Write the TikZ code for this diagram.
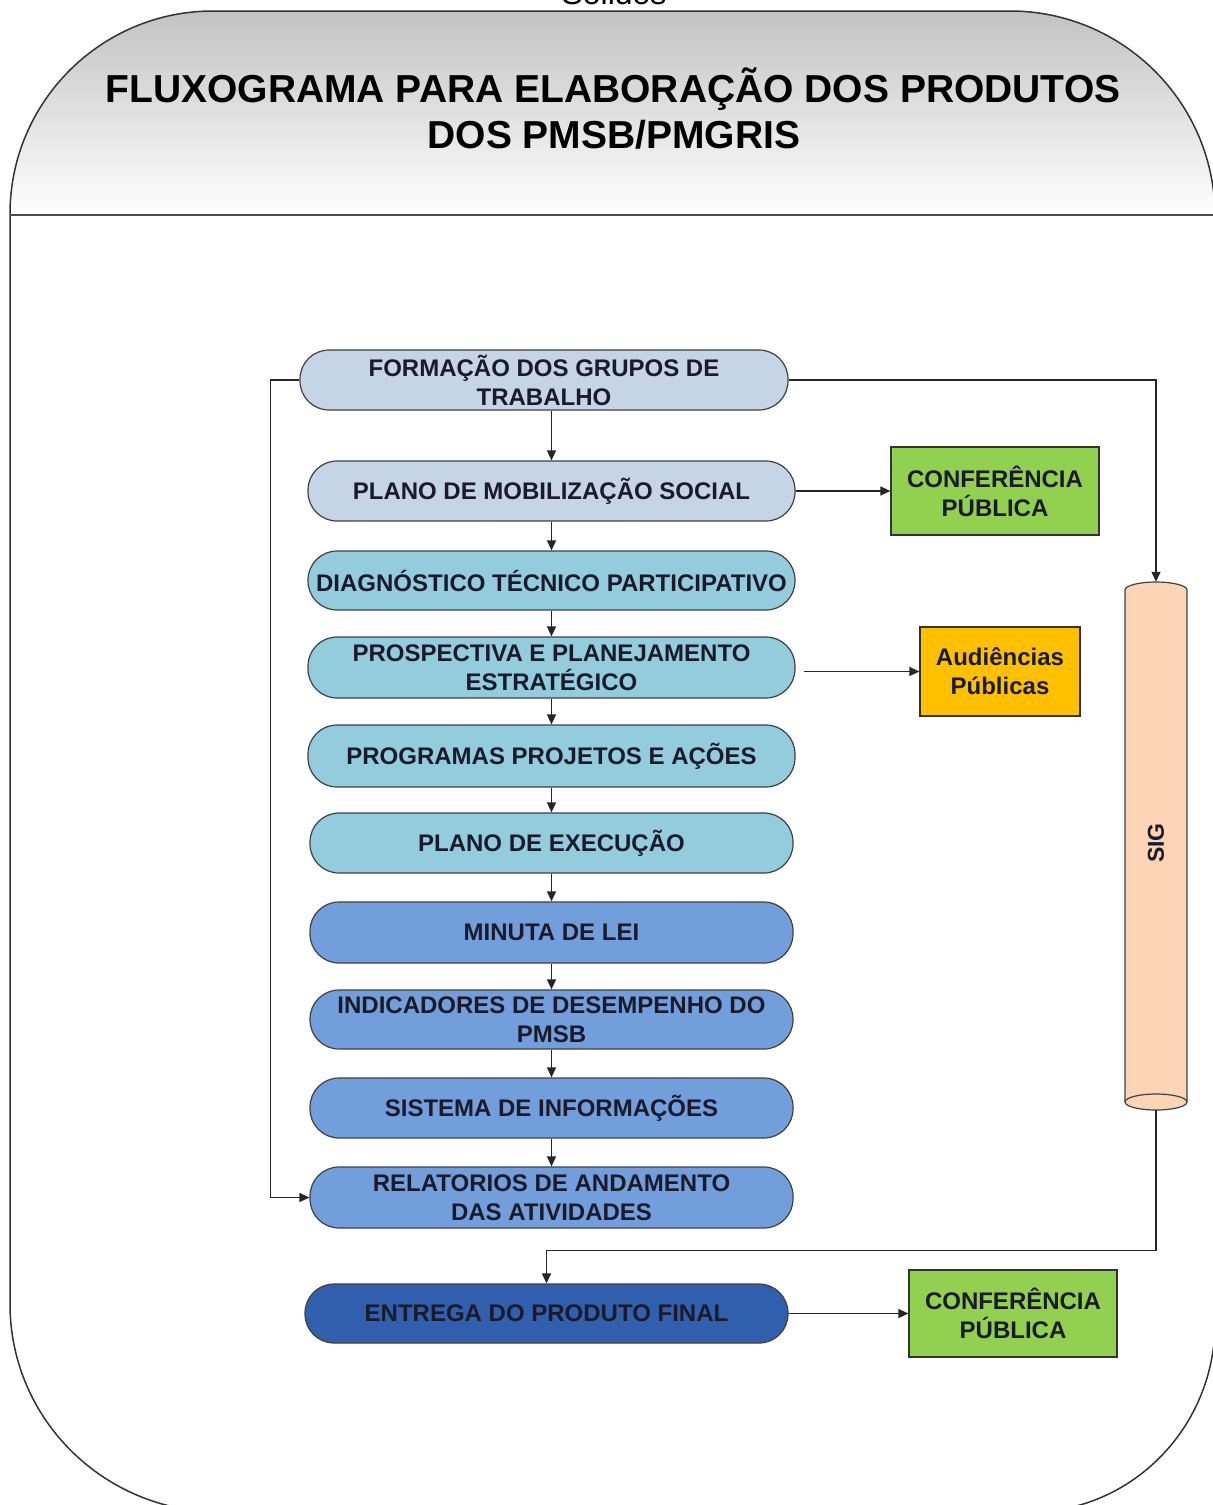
\documentclass[tikz,border=0pt]{standalone}
\usepackage{fontspec}
\setmainfont{Liberation Sans}
\usetikzlibrary{arrows.meta,calc}
\definecolor{grayblue}{HTML}{C6D4E8}
\definecolor{teal1}{HTML}{93CDDD}
\definecolor{blue1}{HTML}{729FDB}
\definecolor{blue2}{HTML}{2F5FAD}
\definecolor{green1}{HTML}{92D050}
\definecolor{orange1}{HTML}{FFC000}
\definecolor{peach}{HTML}{FBD5B5}
\definecolor{txt}{HTML}{1A1A2A}
\begin{document}
\begin{tikzpicture}[x=1pt,y=-1pt,
  pill/.style={draw=black!75, line width=1.2pt, rounded corners=29pt, inner sep=0pt, align=center,
    font=\fontsize{24}{29}\selectfont\bfseries, text=txt},
  pillwide/.style={pill, minimum width=487pt},
  pillnarrow/.style={pill, minimum width=483pt},
  sidebox/.style={draw=black!80, line width=1.2pt, inner sep=0pt, align=center,
    font=\fontsize{24}{29}\selectfont\bfseries, text=txt},
  conn/.style={line width=1.3pt, draw=black!85},
  arr/.style={conn, -{Triangle[length=10pt,width=9pt]}},
  titlefont/.style={font=\fontsize{39}{46}\selectfont\bfseries, anchor=base, text=black}
]
\path[use as bounding box] (0,0) rectangle (1213,1505);

% frame with header gradient
\begin{scope}
\clip (10,1304) -- (10,214) .. controls (10,102) and (101,11) .. (213,11) -- (1010,11)
  .. controls (1123,11) and (1215,103) .. (1215,216) -- (1215,1323)
  .. controls (1215,1427) and (1132,1512) .. (1030,1512) -- (220,1512)
  .. controls (104,1512) and (10,1419) .. (10,1304) -- cycle;
\shade[top color=black!25, bottom color=white] (0,0) rectangle (1220,215);
\end{scope}
\draw[line width=1.5pt, black!80] (10,1304) -- (10,214) .. controls (10,102) and (101,11) .. (213,11) -- (1010,11)
  .. controls (1123,11) and (1215,103) .. (1215,216) -- (1215,1323)
  .. controls (1215,1427) and (1132,1512) .. (1030,1512) -- (220,1512)
  .. controls (104,1512) and (10,1419) .. (10,1304) -- cycle;
\draw[line width=2pt, black!70] (10,215) -- (1215,215);

\node[font=\fontsize{32}{38}\selectfont, anchor=base] (sol) at (614,4) {Sólidos};
\node[titlefont] (t1) at (613,102) {FLUXOGRAMA PARA ELABORAÇÃO DOS PRODUTOS};
\node[titlefont] (t2) at (614,148) {DOS PMSB/PMGRIS};

% main column
\node[pill, fill=grayblue, minimum width=488pt, minimum height=60pt] (n1) at (544,380) {FORMAÇÃO DOS GRUPOS DE\\TRABALHO};
\node[pillwide, fill=grayblue, minimum height=60pt] (n2) at (551.5,491) {PLANO DE MOBILIZAÇÃO SOCIAL};
\node[pillwide, fill=teal1, minimum height=59pt] (n3) at (551.5,580.5) {DIAGNÓSTICO TÉCNICO PARTICIPATIVO};
\node[pillwide, fill=teal1, minimum height=61pt] (n4) at (551.5,667.5) {PROSPECTIVA E PLANEJAMENTO\\ESTRATÉGICO};
\node[pillwide, fill=teal1, minimum height=62pt] (n5) at (551.5,756) {PROGRAMAS PROJETOS E AÇÕES};
\node[pillnarrow, fill=teal1, minimum height=60pt] (n6) at (551.5,843) {PLANO DE EXECUÇÃO};
\node[pillnarrow, fill=blue1, minimum height=61pt] (n7) at (551.5,932.5) {MINUTA DE LEI};
\node[pillnarrow, fill=blue1, minimum height=59pt] (n8) at (551.5,1019.5) {INDICADORES DE DESEMPENHO DO\\PMSB};
\node[pillnarrow, fill=blue1, minimum height=60pt] (n9) at (551.5,1108) {SISTEMA DE INFORMAÇÕES};
\node[pillnarrow, fill=blue1, minimum height=61pt] (n10) at (551.5,1197.5) {RELATORIOS DE ANDAMENTO\\DAS ATIVIDADES};
\node[pill, fill=blue2, minimum width=483pt, minimum height=59pt] (n11) at (546.5,1313.5) {ENTREGA DO PRODUTO FINAL};

% side boxes
\node[sidebox, fill=green1, minimum width=208pt, minimum height=88pt] (c1) at (995,491) {CONFERÊNCIA\\PÚBLICA};
\node[sidebox, fill=orange1, minimum width=160pt, minimum height=89pt] (aud) at (1000,671.5) {Audiências\\Públicas};
\node[sidebox, fill=green1, minimum width=208pt, minimum height=87pt] (c2) at (1013,1313.5) {CONFERÊNCIA\\PÚBLICA};

% SIG cylinder
\node[minimum width=62pt, minimum height=528pt, inner sep=0pt] (sig) at (1156,846) {};
\fill[peach] (1125,590) -- (1125,1102) .. controls (1125,1106.4) and (1138.9,1110) .. (1156,1110)
  .. controls (1173.1,1110) and (1187,1106.4) .. (1187,1102) -- (1187,590)
  .. controls (1187,585.6) and (1173.1,582) .. (1156,582) .. controls (1138.9,582) and (1125,585.6) .. (1125,590) -- cycle;
\draw[line width=1.2pt, black!75] (1125,590) -- (1125,1102) .. controls (1125,1106.4) and (1138.9,1110) .. (1156,1110)
  .. controls (1173.1,1110) and (1187,1106.4) .. (1187,1102) -- (1187,590)
  .. controls (1187,585.6) and (1173.1,582) .. (1156,582) .. controls (1138.9,582) and (1125,585.6) .. (1125,590) -- cycle;
\draw[line width=1.2pt, black!75] (1125,1102) .. controls (1125,1097.6) and (1138.9,1094) .. (1156,1094)
  .. controls (1173.1,1094) and (1187,1097.6) .. (1187,1102);
\node[rotate=90, font=\fontsize{23}{26}\selectfont\bfseries, text=txt] (sigt) at ($(sig.center)+(0,-3)$) {SIG};

% connectors
\draw[arr] (n2.north |- n1.south) -- (n2.north);
\draw[arr] (n2.south) -- (n3.north);
\draw[arr] (n3.south) -- (n4.north);
\draw[arr] (n4.south) -- (n5.north);
\draw[arr] (n5.south) -- (n6.north);
\draw[arr] (n6.south) -- (n7.north);
\draw[arr] (n7.south) -- (n8.north);
\draw[arr] (n8.south) -- (n9.north);
\draw[arr] (n9.south) -- (n10.north);
\draw[arr] (n1.east) -| (sig.north);
\draw[arr] (n1.west) -- ++(-29,0) |- (n10.west);
\draw[arr] (n2.east) -- (c1.west);
\coordinate (p4) at ($(n4.east)+(8,0)$);
\draw[arr] (p4 |- aud.west) -- (aud.west);
\draw[arr] (n11.east) -- (c2.west);
\draw[arr] (sig.south) -- ++(0,140) -| (n11.north);
\end{tikzpicture}
\end{document}
